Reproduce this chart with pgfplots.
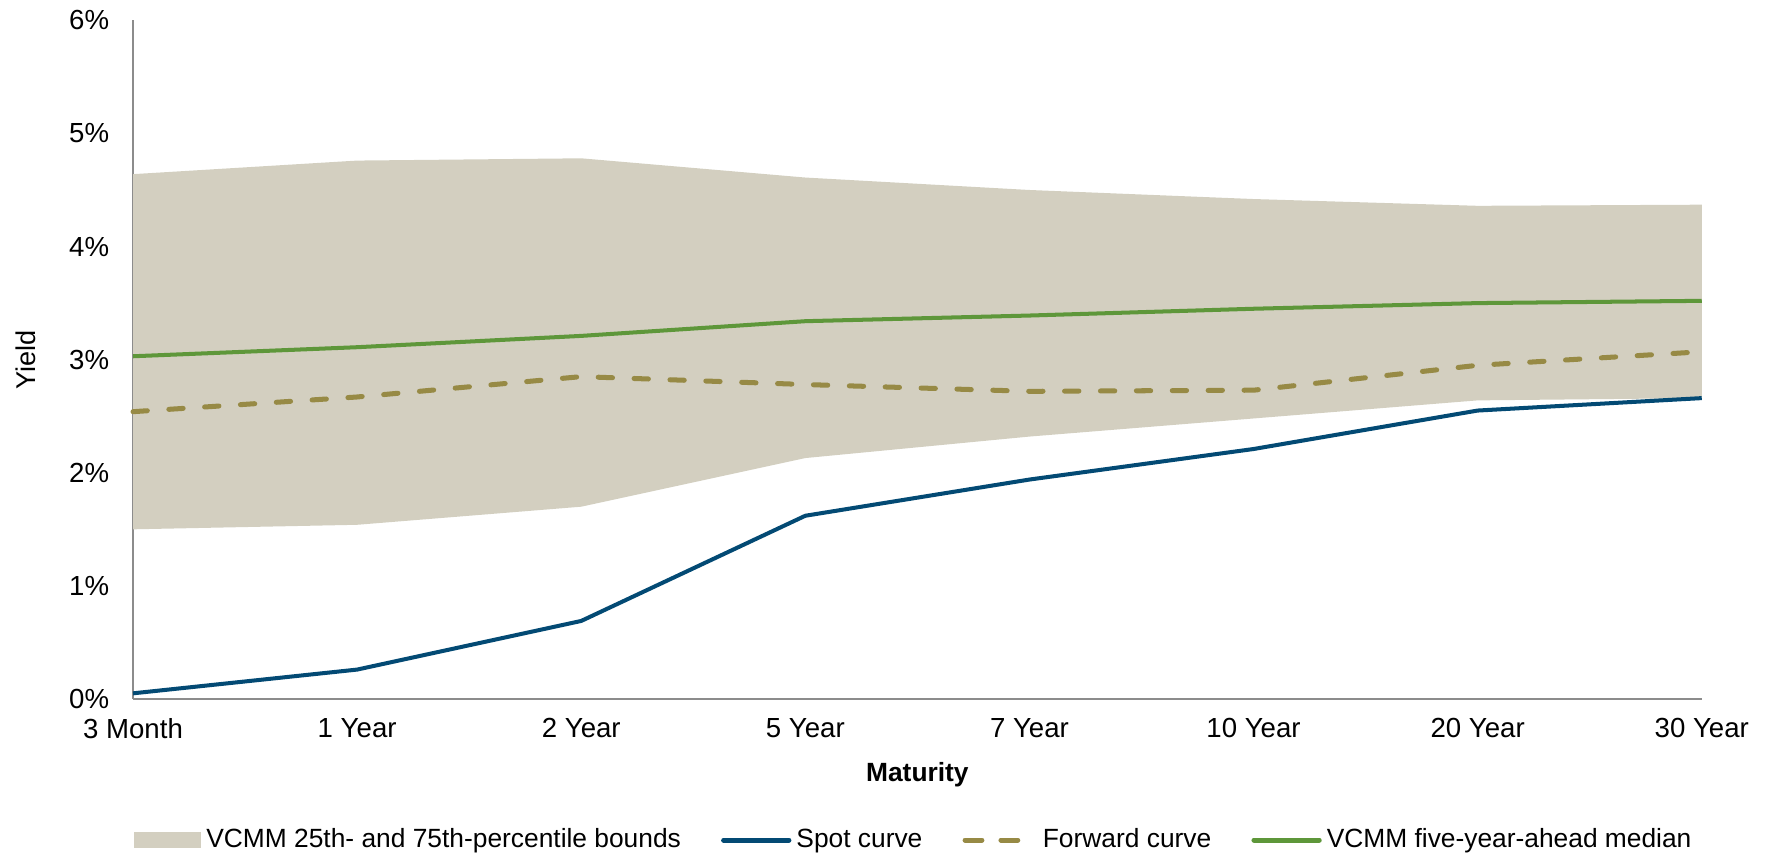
\documentclass[border=0pt]{standalone}
\usepackage{pgfplots}
\pgfplotsset{compat=1.18}
\usepgfplotslibrary{fillbetween}
\usepackage{fontspec}
\setmainfont{Liberation Sans}
\definecolor{bandc}{HTML}{D3CFC0}
\definecolor{spotc}{HTML}{034A74}
\definecolor{fwdc}{HTML}{978A45}
\definecolor{medc}{HTML}{5E973A}
\definecolor{axc}{HTML}{8C8C8C}
\begin{document}
\begin{tikzpicture}
\begin{axis}[
  scale only axis,
  width=625pt, height=270.4pt,
  xmin=0, xmax=7, ymin=0, ymax=6,
  axis lines=left,
  axis line style={axc, line width=0.6pt, -},
  xtick={0,...,7},
  xticklabels={3 Month,1 Year,2 Year,5 Year,7 Year,10 Year,20 Year,30 Year},
  ytick={0,...,6},
  yticklabels={0\%,1\%,2\%,3\%,4\%,5\%,6\%},
  major tick length=0pt,
  tick label style={font=\fontsize{11}{13}\selectfont, black},
  xticklabel style={yshift=-4.3pt},
  yticklabel style={xshift=-6pt},
  xlabel={\textbf{Maturity}},
  xlabel style={font=\fontsize{10.5}{12}\selectfont, yshift=-2.4pt},
  ylabel={Yield},
  ylabel style={font=\fontsize{10.8}{12}\selectfont, yshift=6.5pt},
  /pgf/number format/assume math mode=true,
  legend columns=4,
  legend style={draw=none, fill=none, at={(0,-0.2078)}, anchor=west,
    inner xsep=0pt,
    font=\fontsize{10.5}{12}\selectfont,
    /tikz/every even column/.append style={column sep=14pt}},
  legend cell align=left,
  clip=false,
]
\addplot[name path=upper, draw=none, forget plot] coordinates {
 (0,4.64) (1,4.76) (2,4.78) (3,4.61) (4,4.50) (5,4.42) (6,4.36) (7,4.37)};
\addplot[name path=lower, draw=none, forget plot] coordinates {
 (0,1.50) (1,1.54) (2,1.70) (3,2.13) (4,2.32) (5,2.48) (6,2.64) (7,2.66)};
\addplot[fill=bandc, draw=none,
  legend image code/.code={\fill[bandc] (0pt,-3.2pt) rectangle (27pt,3.2pt);}]
  fill between[of=upper and lower];
\addlegendentry{VCMM 25th- and 75th-percentile bounds}
\addplot[spotc, line width=1.6pt,
  legend image code/.code={\draw[spotc, line width=2pt, line cap=round] (1pt,0pt) -- (27pt,0pt);}] coordinates {
 (0,0.05) (1,0.26) (2,0.69) (3,1.62) (4,1.94) (5,2.21) (6,2.55) (7,2.66)};
\addlegendentry{Spot curve}
\addplot[fwdc, line width=2pt, line cap=round, dash pattern=on 5.7pt off 8.6pt,
  legend image code/.code={\draw[fwdc, line width=2pt, line cap=round, dash pattern=on 5.7pt off 8.6pt] (1pt,0pt) -- (22pt,0pt);
    \path (0pt,0pt) -- (28pt,0pt);}] coordinates {
 (0,2.54) (1,2.67) (2,2.85) (3,2.78) (4,2.72) (5,2.73) (6,2.95) (7,3.07)};
\addlegendentry{Forward curve}
\addplot[medc, line width=1.6pt,
  legend image code/.code={\draw[medc, line width=2pt, line cap=round] (1pt,0pt) -- (27pt,0pt);}] coordinates {
 (0,3.03) (1,3.11) (2,3.21) (3,3.34) (4,3.39) (5,3.45) (6,3.50) (7,3.52)};
\addlegendentry{VCMM five-year-ahead median}
\path (rel axis cs:0,0) ++(-53pt,-61.5pt) coordinate (bbsw);
\path (rel axis cs:1,1) ++(26pt,8.1pt) coordinate (bbne);
\end{axis}
\pgfresetboundingbox
\path[use as bounding box] (bbsw) rectangle (bbne);
\end{tikzpicture}
\end{document}
